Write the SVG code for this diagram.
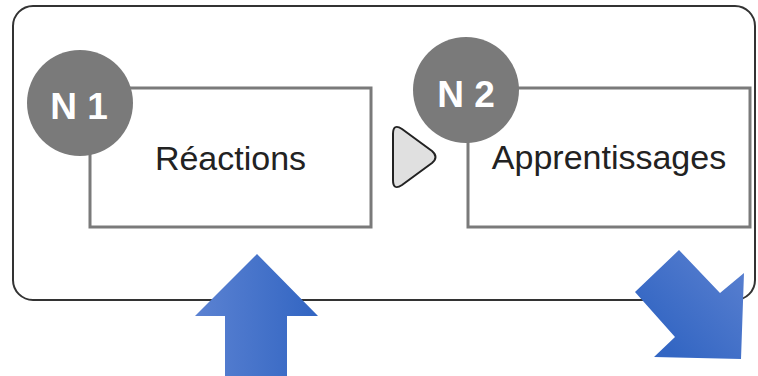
<svg xmlns="http://www.w3.org/2000/svg" width="758" height="376" viewBox="0 0 758 376">
<defs>
<linearGradient id="gUp" x1="0" y1="0" x2="1" y2="0">
<stop offset="0" stop-color="#5b82d2"/>
<stop offset="1" stop-color="#3265c2"/>
</linearGradient>
<linearGradient id="gDiag" gradientUnits="userSpaceOnUse" x1="744" y1="260" x2="660" y2="340">
<stop offset="0" stop-color="#5a80d0"/>
<stop offset="1" stop-color="#3366c3"/>
</linearGradient>
<style>
.box{fill:#fff;stroke:#7a7a7a;stroke-width:3}
.badge{fill:#7a7a7a}
.badgeText{font-family:"Liberation Sans",Arial,sans-serif;font-weight:bold;font-size:37px;fill:#fff;text-anchor:middle}
.label{font-family:"Liberation Sans",Arial,sans-serif;font-size:34px;fill:#222;text-anchor:middle}
</style>
</defs>
<rect width="758" height="376" fill="#fff"/>
<g id="container">
<rect x="13" y="6" width="742" height="294" rx="20" ry="20" fill="#fff" stroke="#333" stroke-width="2"/>
</g>
<g id="n1">
<rect class="box" x="90" y="88" width="281" height="139"/>
<circle class="badge" cx="80" cy="103" r="53"/>
<text class="badgeText" x="79" y="119">N 1</text>
<text class="label" x="230.5" y="170">Réactions</text>
</g>
<g id="n2">
<rect class="box" x="468" y="88" width="282" height="139"/>
<circle class="badge" cx="466" cy="90" r="53"/>
<text class="badgeText" x="466" y="107">N 2</text>
<text class="label" x="609" y="169">Apprentissages</text>
</g>
<g id="connectors">
<path d="M 393 134 Q 393 123 402 129 L 432 151 Q 439 157 432 163 L 402 185 Q 393 191 393 180 Z" fill="#e0e0e0" stroke="#222" stroke-width="2" stroke-linejoin="round"/>
</g>
<g id="arrow-up">
<polygon points="257,254 318,316 287,316 287,376 225,376 225,316 195,316" fill="url(#gUp)"/>
</g>
<g id="arrow-diag">
<polygon points="679,250 720,293 744,273 741,359 654,357 675,337 635,292" fill="url(#gDiag)"/>
</g>
</svg>
